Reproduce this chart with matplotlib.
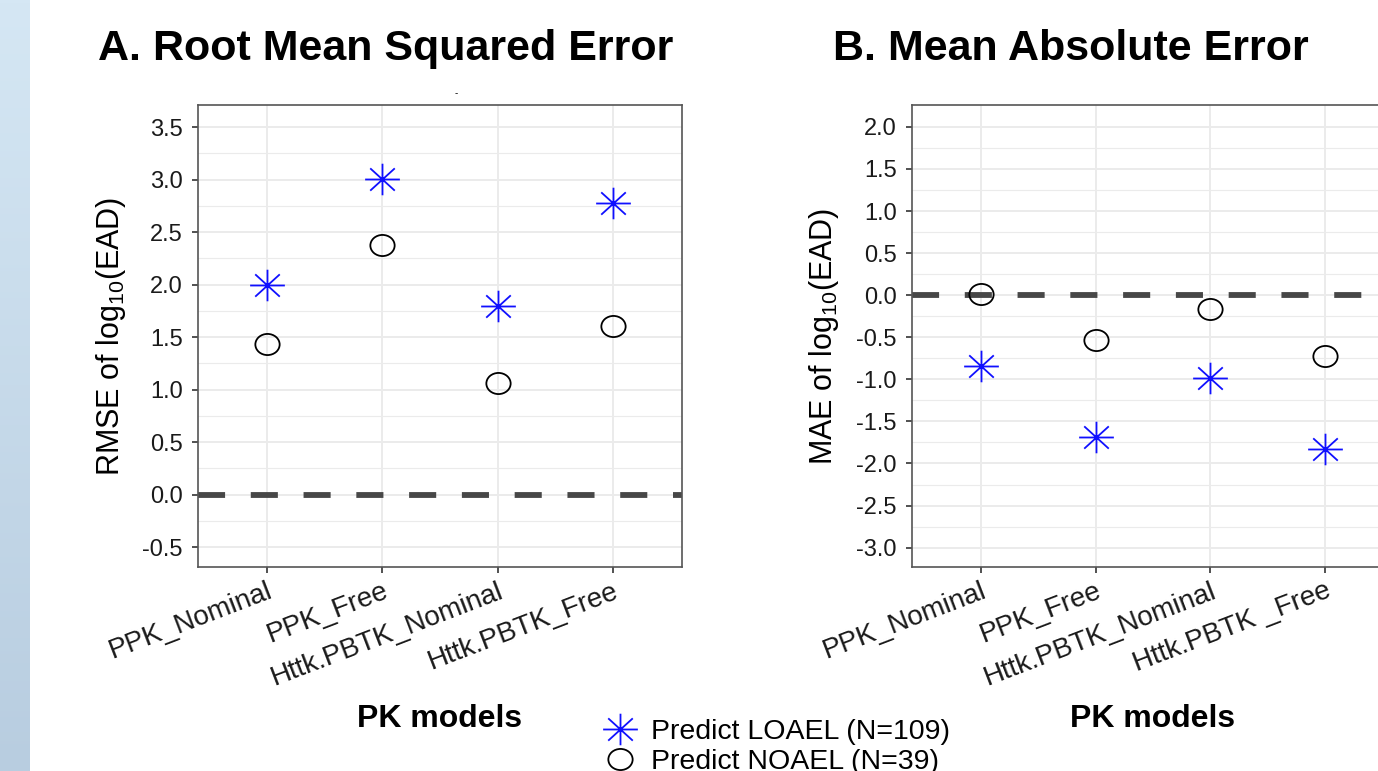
import matplotlib
matplotlib.use("Agg")
import matplotlib.pyplot as plt
import numpy as np
from matplotlib.path import Path
from matplotlib.transforms import Affine2D

# data
models_a = ["PPK_Nominal", "PPK_Free", "Httk.PBTK_Nominal", "Httk.PBTK_Free"]
models_b = ["PPK_Nominal", "PPK_Free", "Httk.PBTK_Nominal", "Httk.PBTK _Free"]
rmse_loael = [2.00, 3.01, 1.80, 2.78]
rmse_noael = [1.43, 2.38, 1.06, 1.61]
mae_loael = [-0.84, -1.69, -0.98, -1.83]
mae_noael = [0.02, -0.53, -0.16, -0.72]
rmse_ticks = [-0.5, 0.0, 0.5, 1.0, 1.5, 2.0, 2.5, 3.0, 3.5]
mae_ticks = [-3.0, -2.5, -2.0, -1.5, -1.0, -0.5, 0.0, 0.5, 1.0, 1.5, 2.0]
legend_labels = ["Predict LOAEL (N=109)", "Predict NOAEL (N=39)"]

plt.rcParams["font.family"] = ["Liberation Sans", "DejaVu Sans"]
plt.rcParams["axes.unicode_minus"] = False
plt.rcParams["lines.scale_dashes"] = False

W, H = 1378, 771
fig = plt.figure(figsize=(W / 100, H / 100), dpi=100)

# light blue strip on the left (slide background)
strip = fig.add_axes([0, 0, 30 / W, 1])
grad = np.linspace(0, 1, 256).reshape(-1, 1)
cmap = matplotlib.colors.LinearSegmentedColormap.from_list("strip", ["#d5e7f4", "#b8cde0"])
strip.imshow(grad, aspect="auto", cmap=cmap, extent=[0, 1, 0, 1], origin="upper")
strip.axis("off")

# marker shapes: 8-spoke asterisk and slightly wide circle
spokes = []
codes = []
for a in np.deg2rad([0, 45, 90, 135]):
    spokes += [(-1.1 * np.cos(a), -np.sin(a)), (1.1 * np.cos(a), np.sin(a))]
    codes += [Path.MOVETO, Path.LINETO]
asterisk = Path(spokes, codes)
ring = Path.unit_circle().transformed(Affine2D().scale(1.15, 1.0))

AX_TOP, AX_BOT = 105, 567


def px(x0, x1):
    return [x0 / W, 1 - AX_BOT / H, (x1 - x0) / W, (AX_BOT - AX_TOP) / H]


def panel(rect, labels, loael, noael, ticks, ylim, ylabel, ylab_x):
    ax = fig.add_axes(rect)
    x = np.arange(1, len(labels) + 1)
    ax.set_xlim(0.4, len(labels) + 0.6)
    ax.set_ylim(*ylim)

    ax.grid(True, which="major", color="#ebebeb", lw=1.4)
    ax.grid(True, which="minor", axis="y", color="#ebebeb", lw=0.8)
    ax.set_axisbelow(True)
    ax.tick_params(which="major", length=4, width=1.2, color="#333333",
                   labelcolor="#1a1a1a")
    ax.tick_params(axis="y", labelsize=17, pad=7)
    ax.tick_params(axis="x", pad=4)
    ax.tick_params(which="minor", length=0)
    for s in ax.spines.values():
        s.set_color("#555555")
        s.set_linewidth(1.2)

    ax.set_yticks(ticks)
    ax.set_yticklabels([f"{t:.1f}" for t in ticks])
    ax.set_yticks([t + 0.25 for t in ticks[:-1]], minor=True)
    ax.set_xticks(x)
    ax.set_xticklabels(labels, rotation=21, ha="right", va="top",
                       rotation_mode="anchor", fontsize=20)

    ax.axhline(0, color="#474747", lw=4.2, dashes=(19.5, 18.5), zorder=2)

    l1, = ax.plot(x, loael, ls="none", marker=asterisk, ms=25, mec="#1010ff",
                  mfc="none", mew=1.3, label=legend_labels[0], zorder=3)
    l2, = ax.plot(x, noael, ls="none", marker=ring, ms=17.5, mec="black",
                  mfc="none", mew=1.3, label=legend_labels[1], zorder=3)

    ax.set_ylabel("%s of log$_{\\mathregular{10}}$(EAD)" % ylabel, fontsize=22)
    ax.yaxis.set_label_coords(ylab_x, 0.5)
    ax.yaxis.label.set_va("center")
    ax.set_xlabel("PK models", fontsize=23, fontweight="bold")
    ax.xaxis.set_label_coords(0.5, -(727 - AX_BOT) / (AX_BOT - AX_TOP))
    ax.xaxis.label.set_va("baseline")
    return ax, l1, l2


ax_a, h1, h2 = panel(px(198, 682), models_a, rmse_loael, rmse_noael,
                     rmse_ticks, (-0.69, 3.71), "RMSE", -0.18)
ax_b, _, _ = panel(px(912, 1394), models_b, mae_loael, mae_noael,
                   mae_ticks, (-3.23, 2.26), "MAE", -0.183)

fig.text(386 / W, 1 - 60 / H, "A. Root Mean Squared Error", fontsize=31,
         fontweight="bold", ha="center", va="baseline")
fig.text(1071 / W, 1 - 60 / H, "B. Mean Absolute Error", fontsize=31,
         fontweight="bold", ha="center", va="baseline")
fig.text(456 / W, 1 - 93 / H, "-", fontsize=7, ha="center", va="center")

# legend sits at the bottom edge, second row partly cut off as in the source slide
fig.legend(handles=[h1, h2], loc="upper left", bbox_to_anchor=(603 / W, 1 - 719 / H),
           frameon=False, fontsize=20.5, handlelength=1.2, handletextpad=0.5,
           labelspacing=0.15, borderpad=0, borderaxespad=0, numpoints=1)

fig.savefig("out.png", dpi=100)
